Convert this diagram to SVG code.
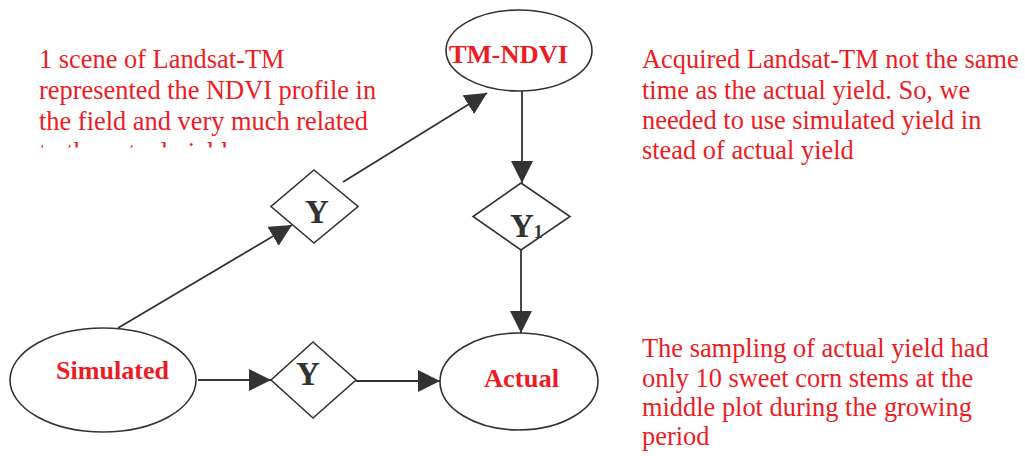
<svg xmlns="http://www.w3.org/2000/svg" width="1025" height="456" viewBox="0 0 1025 456">
  <style>
    .node { fill: #ffffff; stroke: #333333; stroke-width: 1.6; }
    .lbl { font-family: "Liberation Serif", "Times New Roman", serif; font-weight: bold; fill: #ed1c24; font-size: 26px; }
    .ylbl { font-family: "Liberation Serif", "Times New Roman", serif; font-weight: bold; fill: #333333; font-size: 33px; }
    .note { font-family: "Liberation Serif", "Times New Roman", serif; fill: #ed1c24; font-size: 26.4px; }
    .edge { stroke: #333333; stroke-width: 1.8; fill: none; }
  </style>
  <defs>
    <marker id="arrow" markerUnits="userSpaceOnUse" markerWidth="24" markerHeight="24" refX="22" refY="11" orient="auto" viewBox="0 0 24 24">
      <path d="M0,0 L22,11 L0,22 z" fill="#333333"/>
    </marker>
    <clipPath id="clipTL">
      <rect x="0" y="0" width="420" height="147.5"/>
    </clipPath>
  </defs>
  <rect width="1025" height="456" fill="#ffffff"/>

  <g id="connectors">
    <line class="edge" x1="118" y1="328" x2="292" y2="225" marker-end="url(#arrow)"/>
    <line class="edge" x1="343" y1="182" x2="487" y2="93" marker-end="url(#arrow)"/>
    <line class="edge" x1="522" y1="91" x2="522" y2="183" marker-end="url(#arrow)"/>
    <line class="edge" x1="521" y1="250" x2="521" y2="333" marker-end="url(#arrow)"/>
    <line class="edge" x1="198" y1="380" x2="271" y2="380" marker-end="url(#arrow)"/>
    <line class="edge" x1="356" y1="381" x2="440" y2="381" marker-end="url(#arrow)"/>
  </g>

  <g id="node-tmndvi">
    <ellipse class="node" cx="519" cy="50.5" rx="73" ry="40.5"/>
    <text class="lbl" x="449" y="63" font-size="27" textLength="119" lengthAdjust="spacingAndGlyphs">TM-NDVI</text>
  </g>

  <g id="node-y-upper">
    <polygon class="node" points="314,170 358,206.5 314,243 271,206.5"/>
    <text class="ylbl" x="317" y="223" text-anchor="middle">Y</text>
  </g>

  <g id="node-y1">
    <polygon class="node" points="521,183 570,216.5 521,250 473,216.5"/>
    <text class="ylbl" x="510" y="237">Y<tspan font-size="18" dy="1">1</tspan></text>
  </g>

  <g id="node-simulated">
    <ellipse class="node" cx="103" cy="380" rx="93" ry="52"/>
    <text class="lbl" x="56" y="379" textLength="113" lengthAdjust="spacingAndGlyphs">Simulated</text>
  </g>

  <g id="node-y-lower">
    <polygon class="node" points="313,342 356,380 313,418 271,380"/>
    <text class="ylbl" x="308" y="385" text-anchor="middle">Y</text>
  </g>

  <g id="node-actual">
    <ellipse class="node" cx="519" cy="381.5" rx="79" ry="48.5"/>
    <text class="lbl" x="484" y="387" textLength="75" lengthAdjust="spacingAndGlyphs">Actual</text>
  </g>

  <g id="note-top-left" clip-path="url(#clipTL)">
    <text class="note" x="39" y="68">1 scene of Landsat-TM</text>
    <text class="note" x="39" y="99">represented the NDVI profile in</text>
    <text class="note" x="39" y="130">the field and very much related</text>
    <text class="note" x="39" y="161">to the actual yield</text>
  </g>

  <g id="note-top-right">
    <text class="note" x="642" y="68">Acquired Landsat-TM not the same</text>
    <text class="note" x="642" y="99">time as the actual yield. So, we</text>
    <text class="note" x="642" y="129">needed to use simulated yield in</text>
    <text class="note" x="642" y="159">stead of actual yield</text>
  </g>

  <g id="note-bottom-right">
    <text class="note" x="642" y="357">The sampling of actual yield had</text>
    <text class="note" x="642" y="387">only 10 sweet corn stems at the</text>
    <text class="note" x="642" y="416">middle plot during the growing</text>
    <text class="note" x="642" y="445">period</text>
  </g>
</svg>
